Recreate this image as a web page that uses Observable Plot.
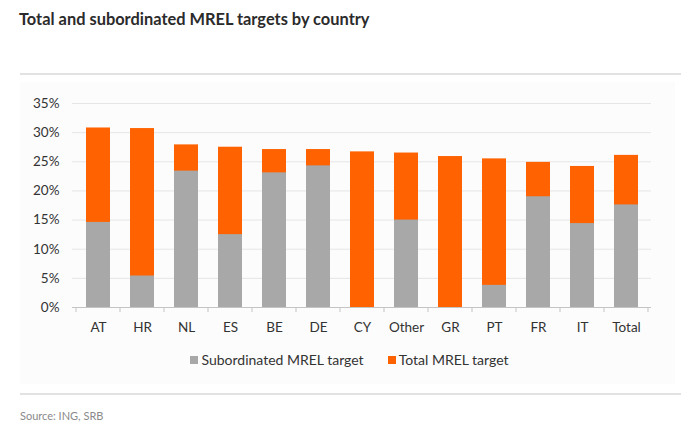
<!DOCTYPE html>
<html>
<head>
<meta charset="utf-8">
<script src="https://cdn.jsdelivr.net/npm/d3@7"></script>
<script src="https://cdn.jsdelivr.net/npm/@observablehq/plot@0.6"></script>
<style>
  html, body { margin: 0; padding: 0; background: #fff; }
  #wrap { position: relative; width: 681px; height: 428px; font-family: Lato, "Noto Sans", sans-serif; color: #333; overflow: hidden; }
  #panel { position: absolute; left: 20px; top: 82px; width: 655px; height: 302px; background: #fcfcfc; }
  #title { position: absolute; left: 19px; top: 9px; font-size: 16.4px; font-weight: bold; line-height: 20px; color: #2b2b2b; white-space: nowrap; }
  #sep { position: absolute; left: 20px; right: 0; top: 73px; height: 2px; background: #e2e2e2; }
  #chart { position: absolute; left: 0; top: 90px; }
  #legend { position: absolute; left: 0; width: 681px; top: 351px; text-align: center; font-size: 14px; line-height: 18px; color: #333; white-space: nowrap; padding-left: 18px; box-sizing: border-box; }
  #legend .sw { display: inline-block; width: 8px; height: 8px; margin-right: 3px; vertical-align: 1px; }
  #legend .item { display: inline-block; margin: 0 12px; }
  #bottom { position: absolute; left: 20px; right: 0; top: 393px; height: 2px; background: #e2e2e2; }
  #source { position: absolute; left: 20px; top: 409px; font-size: 11px; line-height: 14px; color: #8a8a8a; }
</style>
</head>
<body>
<div id="wrap">
  <div id="panel"></div>
  <div id="title">Total and subordinated MREL targets by country</div>
  <div id="sep"></div>
  <div id="chart"></div>
  <div id="legend"></div>
  <div id="bottom"></div>
  <div id="source">Source: ING, SRB</div>
</div>
<script>
const categories = ["AT","HR","NL","ES","BE","DE","CY","Other","GR","PT","FR","IT","Total"];
const subordinated = [14.6, 5.4, 23.4, 12.5, 23.1, 24.3, 0, 15.0, 0, 3.8, 19.0, 14.4, 17.6];
const totalTarget = [30.8, 30.7, 27.9, 27.5, 27.1, 27.1, 26.7, 26.5, 25.9, 25.5, 24.9, 24.2, 26.1];
const yTicks = [0, 5, 10, 15, 20, 25, 30, 35];
const seriesNames = ["Subordinated MREL target", "Total MREL target"];
const colors = ["#A8A8A8", "#FF6200"];

const data = categories.map((c, i) => ({cat: c, sub: subordinated[i], total: totalTarget[i]}));

function boundaryTicks(index, scales, values, dims) {
  const x = scales.x;
  const y = scales.y;
  const g = d3.create("svg:g");
  const bw = x.bandwidth ? x.bandwidth() : (dims.width - dims.marginLeft - dims.marginRight) / categories.length;
  const y0 = y(0);
  const edges = categories.map(c => x(c)).concat([x(categories[categories.length - 1]) + bw]);
  for (const e of edges) {
    g.append("line").attr("x1", e).attr("x2", e).attr("y1", y0).attr("y2", y0 + 5)
      .attr("stroke", "#c4c4c4").attr("stroke-width", 1);
  }
  return g.node();
}

const chart = Plot.plot({
  width: 681,
  height: 250,
  marginTop: 13,
  marginBottom: 33,
  marginLeft: 72,
  marginRight: 30,
  style: {fontFamily: "Lato, 'Noto Sans', sans-serif", fontSize: "13.5px", color: "#333", background: "transparent"},
  x: {domain: categories, padding: 0, label: null},
  y: {domain: [0, 35], label: null},
  marks: [
    Plot.gridY(yTicks, {stroke: "#e6e6e6", strokeOpacity: 1}),
    Plot.barY(data, {x: "cat", y: "total", fill: colors[1], insetLeft: 10, insetRight: 10}),
    Plot.barY(data, {x: "cat", y: "sub", fill: colors[0], insetLeft: 10, insetRight: 10}),
    Plot.ruleY([0], {stroke: "#c4c4c4"}),
    boundaryTicks,
    Plot.axisX({tickSize: 0, tickPadding: 15, label: null, fontSize: 13.5}),
    Plot.axisY({ticks: yTicks, tickSize: 0, tickPadding: 13, tickFormat: d => d + "%", label: null, fontSize: 13.5})
  ]
});
document.getElementById("chart").appendChild(chart);

const legend = document.getElementById("legend");
seriesNames.forEach((name, i) => {
  const item = document.createElement("span");
  item.className = "item";
  const sw = document.createElement("span");
  sw.className = "sw";
  sw.style.background = colors[i];
  item.appendChild(sw);
  item.appendChild(document.createTextNode(name));
  legend.appendChild(item);
});
</script>
</body>
</html>
